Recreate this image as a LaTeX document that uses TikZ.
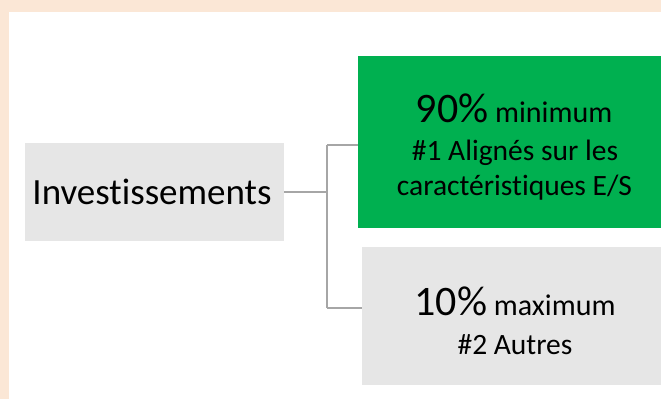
\documentclass[tikz,border=0pt]{standalone}
\usepackage{fontspec}
\setmainfont{Carlito}[Ligatures={NoCommon}]
\definecolor{peach}{HTML}{FBE7D6}
\definecolor{boxgray}{HTML}{E6E6E6}
\definecolor{boxgreen}{HTML}{00B050}
\definecolor{linegray}{HTML}{A6A6A6}
\tikzset{
  box/.style={draw=none, inner sep=0pt, minimum width=#1},
  conn/.style={draw=linegray, line width=1.5pt},
  txt/.style={inner sep=0pt, anchor=base, text=black},
}
\newcommand{\fsz}[1]{\fontsize{#1}{#1}\selectfont}
\begin{document}
\begin{tikzpicture}[x=1pt, y=-1pt]
\useasboundingbox (0,0) rectangle (661,399);
\fill[peach] (0,0) rectangle (661,399);
\fill[white] (9,12) rectangle (661,399);
% boxes
\node[box=259pt, minimum height=98pt, fill=boxgray] (inv) at (154.5,192) {};
\node[box=303pt, minimum height=172pt, fill=boxgreen] (green) at (509.5,142) {};
\node[box=299pt, minimum height=138pt, fill=boxgray] (other) at (511.5,316) {};
% texts
\node[txt] (invt) at (152,204) {\fsz{37}Investissements};
\node[txt] (g1) at (514,122) {\fsz{42}90\%{\fsz{30} minimum}};
\node[txt] (g2) at (515,160) {\fsz{29.5}\#1 Alignés sur les};
\node[txt] (g3) at (514.5,195) {\fsz{29.5}caractéristiques E/S};
\node[txt] (o1) at (515,315) {\fsz{42}10\%{\fsz{30} maximum}};
\node[txt] (o2) at (515,354) {\fsz{29.5}\#2 Autres};
% connectors
\coordinate (j) at (327,192);
\coordinate (jt) at (327,145);
\coordinate (jb) at (327,308);
\draw[conn] (inv.east) -- (j);
\draw[conn] (jt) -- (jb);
\draw[conn] (jt) -- (green.west |- jt);
\draw[conn] (jb) -- (other.west |- jb);
\end{tikzpicture}
\end{document}
